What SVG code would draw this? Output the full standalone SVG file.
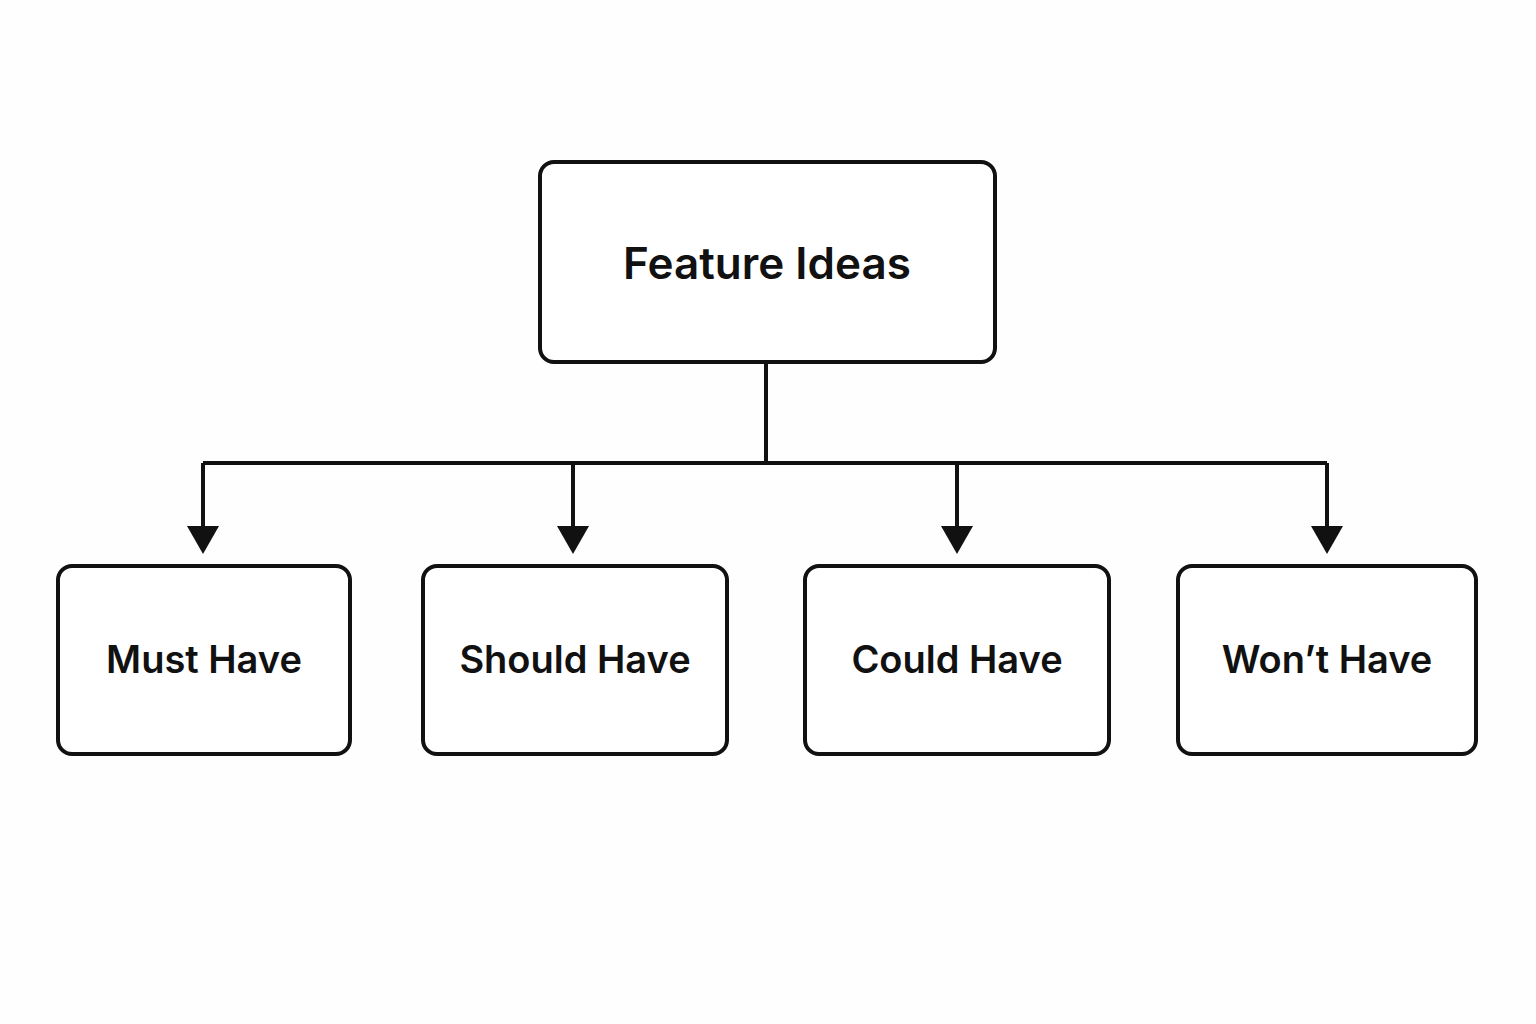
<svg xmlns="http://www.w3.org/2000/svg" width="1536" height="1024" viewBox="0 0 1536 1024">
<defs>
<style>
.box{fill:#fff;stroke:#111;stroke-width:4}
.t{font-family:Inter,"Liberation Sans",sans-serif;font-weight:600;fill:#111;text-anchor:middle}
.c{fill:none;stroke:#111;stroke-width:4}
</style>
<marker id="ah" markerWidth="8" markerHeight="8" refX="6" refY="4" orient="auto" markerUnits="strokeWidth"><path d="M0,0 L7,4 L0,8 Z" fill="#111"/></marker>
</defs>
<rect width="1536" height="1024" fill="#fefefe"/>
<g id="connectors">
<path class="c" d="M766,362 V463"/>
<path class="c" d="M203,463 H1327"/>
<path class="c" d="M203,463 V550" marker-end="url(#ah)"/>
<path class="c" d="M573,463 V550" marker-end="url(#ah)"/>
<path class="c" d="M957,463 V550" marker-end="url(#ah)"/>
<path class="c" d="M1327,463 V550" marker-end="url(#ah)"/>
</g>
<g id="root"><rect class="box" x="540" y="162" width="455" height="200" rx="14"/><text class="t" x="767" y="279" font-size="44">Feature Ideas</text></g>
<g id="must"><rect class="box" x="58" y="566" width="292" height="188" rx="14"/><text class="t" x="204" y="673" font-size="38">Must Have</text></g>
<g id="should"><rect class="box" x="423" y="566" width="304" height="188" rx="14"/><text class="t" x="575" y="673" font-size="38">Should Have</text></g>
<g id="could"><rect class="box" x="805" y="566" width="304" height="188" rx="14"/><text class="t" x="957" y="673" font-size="38">Could Have</text></g>
<g id="wont"><rect class="box" x="1178" y="566" width="298" height="188" rx="14"/><text class="t" x="1327" y="673" font-size="38">Won’t Have</text></g>
</svg>
